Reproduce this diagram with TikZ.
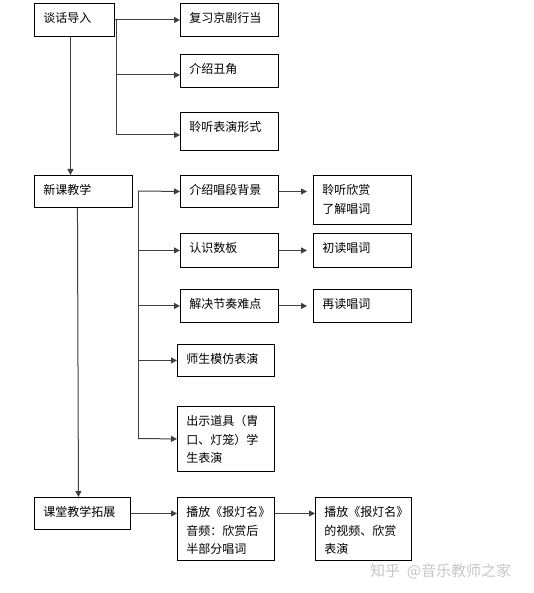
\documentclass[tikz,border=0pt]{standalone}
\usepackage{fontspec}
\setmainfont{Noto Sans CJK SC}
\usetikzlibrary{arrows.meta}
\newcommand{\bxt}[3]{\parbox[c][#2pt][t]{#1pt}{\vspace*{9pt}\setlength{\baselineskip}{18.5pt}#3}}
\tikzset{
  box/.style={draw=black, line width=0.9pt, inner xsep=9pt, inner ysep=0pt, anchor=north west, font=\fontsize{12pt}{18.5pt}\selectfont, align=left},
  arr/.style={draw=black!75, line width=1pt, -{Triangle[length=6pt,width=6pt]}},
  ln/.style={draw=black!75, line width=1pt},
}
\begin{document}
\begin{tikzpicture}[x=1pt,y=-1pt]
\useasboundingbox[fill=white] (0,0) rectangle (533,593);
% column 1
\node[box] (A) at (34,3) {\bxt{62}{33}{谈话导入}};
\node[box] (B) at (34,175) {\bxt{80}{32}{新课教学}};
\node[box] (C) at (34,497) {\bxt{78}{32}{课堂教学拓展}};
% column 2
\node[box] (A1) at (180,3) {\bxt{80}{33}{复习京剧行当}};
\node[box] (A2) at (180,54) {\bxt{80}{33}{介绍丑角}};
\node[box] (A3) at (180,112) {\bxt{80}{38}{聆听表演形式}};
\node[box] (B1) at (180,175) {\bxt{80}{32}{介绍唱段背景}};
\node[box] (B2) at (180,233) {\bxt{80}{34}{认识数板}};
\node[box] (B3) at (180,289) {\bxt{80}{33}{解决节奏难点}};
\node[box] (B4) at (177,344) {\bxt{79}{32}{师生模仿表演}};
\node[box] (B5) at (177,406) {\bxt{79}{65}{出示道具（胄\\口、灯笼）学\\生表演}};
\node[box] (C1) at (177,497) {\bxt{79}{63}{播放《报灯名》\\音频：欣赏后\\半部分唱词}};
% column 3
\node[box] (B1r) at (313,175) {\bxt{80}{49}{聆听欣赏\\了解唱词}};
\node[box] (B2r) at (313,233) {\bxt{80}{34}{初读唱词}};
\node[box] (B3r) at (313,289) {\bxt{80}{33}{再读唱词}};
\node[box] (C2) at (315,497) {\bxt{78}{63}{播放《报灯名》\\的视频、欣赏\\表演}};
% watermark
\node[anchor=west, text=black!22, font=\fontsize{15pt}{15pt}\selectfont, inner sep=0pt] (wm) at (370,571) {知乎 \ @音乐教师之家};
% branch from A
\coordinate (ja0) at (116,19.5);
\coordinate (ja1) at (116,75);
\coordinate (ja2) at (116,135);
\draw[arr] (A.east) -- (A1.west);
\draw[ln] (ja0) -- (ja2);
\draw[arr] (ja1) -- (ja1 -| A2.west);
\draw[arr] (ja2) -- (ja2 -| A3.west);
% A down to B
\draw[arr] ([xshift=-4pt]A.south) -- ([xshift=-4pt]A.south |- B.north);
% branch B
\coordinate (jb0) at (138,191);
\coordinate (jb4) at (138,438.5);
\draw[ln] (jb0) -- (jb4);
\draw[arr] (jb0) -- (B1.west);
\draw[arr] (jb0 |- B2.west) -- (B2.west);
\draw[arr] (jb0 |- B3.west) -- (B3.west);
\draw[arr] (jb0 |- B4.west) -- (B4.west);
\draw[arr] (jb4) -- (B5.west);
% second level arrows
\draw[arr, shorten >=6pt] (B1.east) -- (B1.east -| B1r.west);
\draw[arr, shorten >=6pt] (B2.east) -- (B2r.west);
\draw[arr, shorten >=6pt] (B3.east) -- (B3r.west);
% B down to C
\draw[arr] ([xshift=-6pt]B.south) -- ([xshift=-4pt]C.north);
% C row
\draw[arr] (C.east) -- (C.east -| C1.west);
\draw[arr] (C.east -| C1.east) -- (C.east -| C2.west);
\end{tikzpicture}
\end{document}
